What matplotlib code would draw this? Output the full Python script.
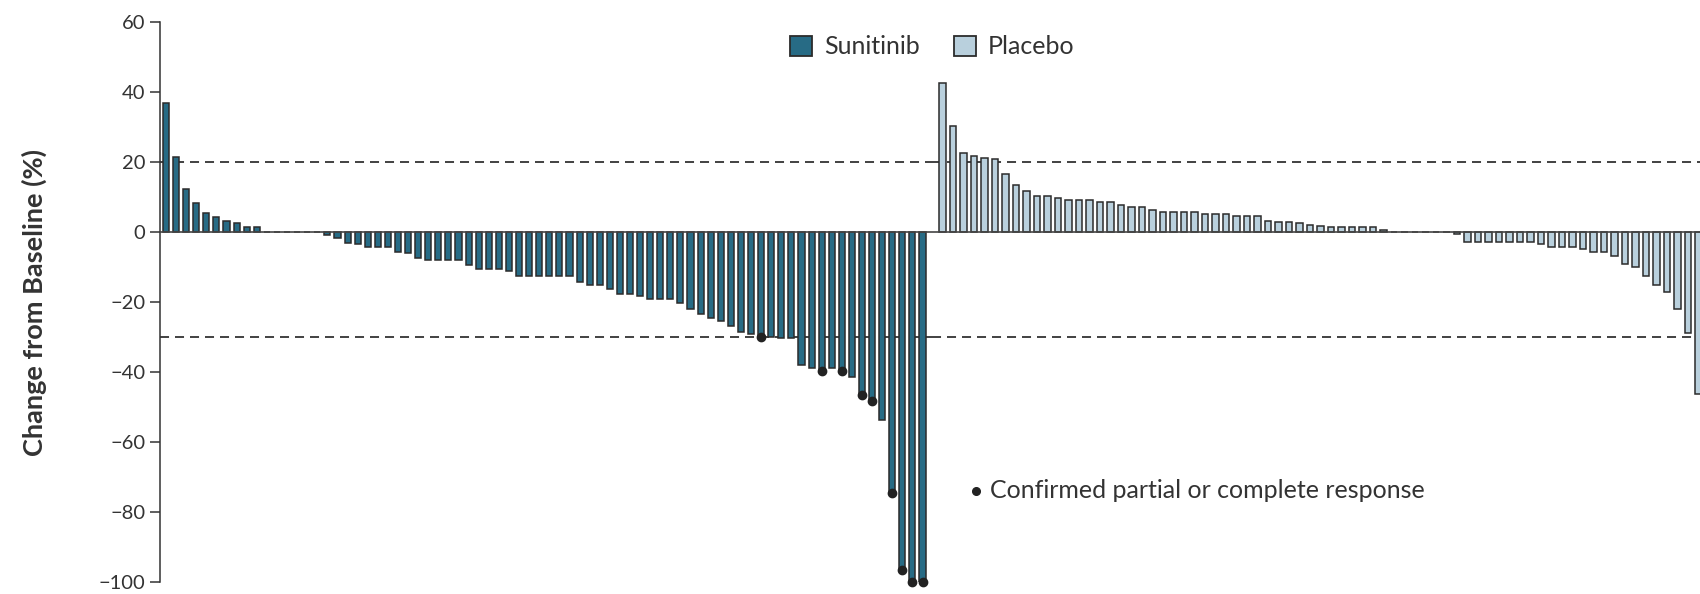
import matplotlib
matplotlib.use("Agg")
import matplotlib.pyplot as plt
from matplotlib.patches import Patch
import numpy as np

plt.rcParams['font.family'] = ['Lato', 'DejaVu Sans']
plt.rcParams['lines.scale_dashes'] = False

# ---------------- data ----------------
sunitinib_change = [
    37.0, 21.5, 12.5, 8.5, 5.5, 4.5, 3.2, 2.7, 1.4, 1.4,
    0, 0, 0, 0, 0, 0,
    -0.8, -1.5, -3.0, -3.4, -4.2, -4.2, -4.2, -5.5, -6.0, -7.4,
    -8.0, -8.0, -8.0, -8.0, -9.3, -10.5, -10.5, -10.5, -11.1, -12.5,
    -12.5, -12.5, -12.5, -12.5, -12.5, -14.3, -15.0, -15.0, -16.3, -17.7,
    -17.7, -18.2, -19.0, -19.0, -19.0, -20.2, -22.0, -23.4, -24.6, -25.3,
    -26.7, -28.6, -29.1, -29.8, -30.0, -30.3, -30.3, -38.0, -38.8, -39.7,
    -38.7, -39.7, -41.2, -46.5, -48.2, -53.6, -74.6, -96.5, -100.0, -100.0,
]
sunitinib_confirmed = [59, 65, 67, 69, 70, 72, 73, 74, 75]

placebo_change = [
    42.6, 30.3, 22.7, 21.9, 21.2, 20.8, 16.7, 13.6, 11.7, 10.4,
    10.4, 9.8, 9.1, 9.1, 9.1, 8.6, 8.6, 7.9, 7.2, 7.2,
    6.5, 5.9, 5.9, 5.9, 5.9, 5.3, 5.3, 5.3, 4.6, 4.6,
    4.6, 3.1, 2.8, 2.8, 2.6, 2.1, 1.8, 1.4, 1.4, 1.4,
    1.4, 1.4, 0.7, 0, 0, 0, 0, 0, 0, -0.6,
    -2.9, -2.9, -2.9, -2.9, -2.9, -2.9, -2.9, -3.4, -4.1, -4.1,
    -4.1, -4.8, -5.5, -5.5, -6.7, -9.1, -9.8, -12.5, -15.0, -17.0,
    -22.0, -28.9, -46.3,
]

series_labels = ["Sunitinib", "Placebo"]
y_ticks = [60, 40, 20, 0, -20, -40, -60, -80, -100]
progression_line = 20
response_line = -30
y_label = "Change from Baseline (%)"
note_label = "Confirmed partial or complete response"

# ---------------- style ----------------
SUN_COLOR = "#276b85"
PLA_COLOR = "#b9d0dd"
EDGE = "#2b2b2b"
TXT = "#333333"

W, H = 1700, 594
fig = plt.figure(figsize=(W / 100, H / 100), dpi=100)


def px_rect(x0, x1, y0, y1):
    return [x0 / W, 1 - y1 / H, (x1 - x0) / W, (y1 - y0) / H]


ax1 = fig.add_axes(px_rect(160, 932, 22.3, 582.3))
ax2 = fig.add_axes(px_rect(932, 1700, 22.3, 582.3), sharey=ax1)

bar_w = 0.6
xs1 = np.arange(len(sunitinib_change))
xs2 = np.arange(len(placebo_change))

ax1.bar(xs1, sunitinib_change, width=bar_w, color=SUN_COLOR, edgecolor=EDGE,
        linewidth=1.1, zorder=3)
ax2.bar(xs2, placebo_change, width=bar_w, color=PLA_COLOR, edgecolor=EDGE,
        linewidth=1.1, zorder=3)

conf_vals = [sunitinib_change[i] for i in sunitinib_confirmed]
ax1.plot(sunitinib_confirmed, conf_vals, 'o', color="#222222", ms=6,
         clip_on=False, zorder=5)

for ax in (ax1, ax2):
    ax.axhline(0, color="#444444", lw=1.2, zorder=4)
    for yv in (progression_line, response_line):
        ax.axhline(yv, color=TXT, lw=1.3, linestyle=(0, (6.5, 4.3)), zorder=1)
    for s in ("top", "right", "bottom"):
        ax.spines[s].set_visible(False)
    ax.set_xticks([])

ax1.set_ylim(-100, 60)
ax1.set_xlim(-0.595, 75.94)
ax2.set_xlim(-1.0, 72.14)

ax1.spines["left"].set_color(TXT)
ax1.spines["left"].set_linewidth(1.1)
ax2.spines["left"].set_visible(False)
ax1.set_yticks(y_ticks)
ax1.set_yticklabels([("\u2212" + str(-t)) if t < 0 else str(t) for t in y_ticks])
ax1.tick_params(axis="y", length=7.5, width=1.1, color=TXT, labelsize=14.5,
                labelcolor=TXT, pad=3)
ax2.tick_params(axis="y", left=False, labelleft=False)

fig.text(34 / W, 1 - 303 / H, y_label, rotation=90, ha="center", va="center",
         fontsize=19.5, fontweight="bold", color=TXT)

handles = [Patch(facecolor=SUN_COLOR, edgecolor=EDGE, linewidth=1.3, label=series_labels[0]),
           Patch(facecolor=PLA_COLOR, edgecolor=EDGE, linewidth=1.3, label=series_labels[1])]
fig.legend(handles=handles, loc="center left", bbox_to_anchor=(790 / W, 1 - 47 / H),
           ncol=2, frameon=False, borderpad=0, borderaxespad=0,
           handlelength=0.88, handleheight=0.88, handletextpad=0.48,
           columnspacing=1.36, fontsize=18, labelcolor=TXT)

fig.lines.append(plt.Line2D([976 / W], [1 - 491 / H], marker="o", ms=5.5,
                            color="#222222", transform=fig.transFigure))
fig.text(990 / W, 1 - 491 / H, note_label, ha="left", va="center",
         fontsize=18, color=TXT)

fig.savefig("out.png", dpi=100)
